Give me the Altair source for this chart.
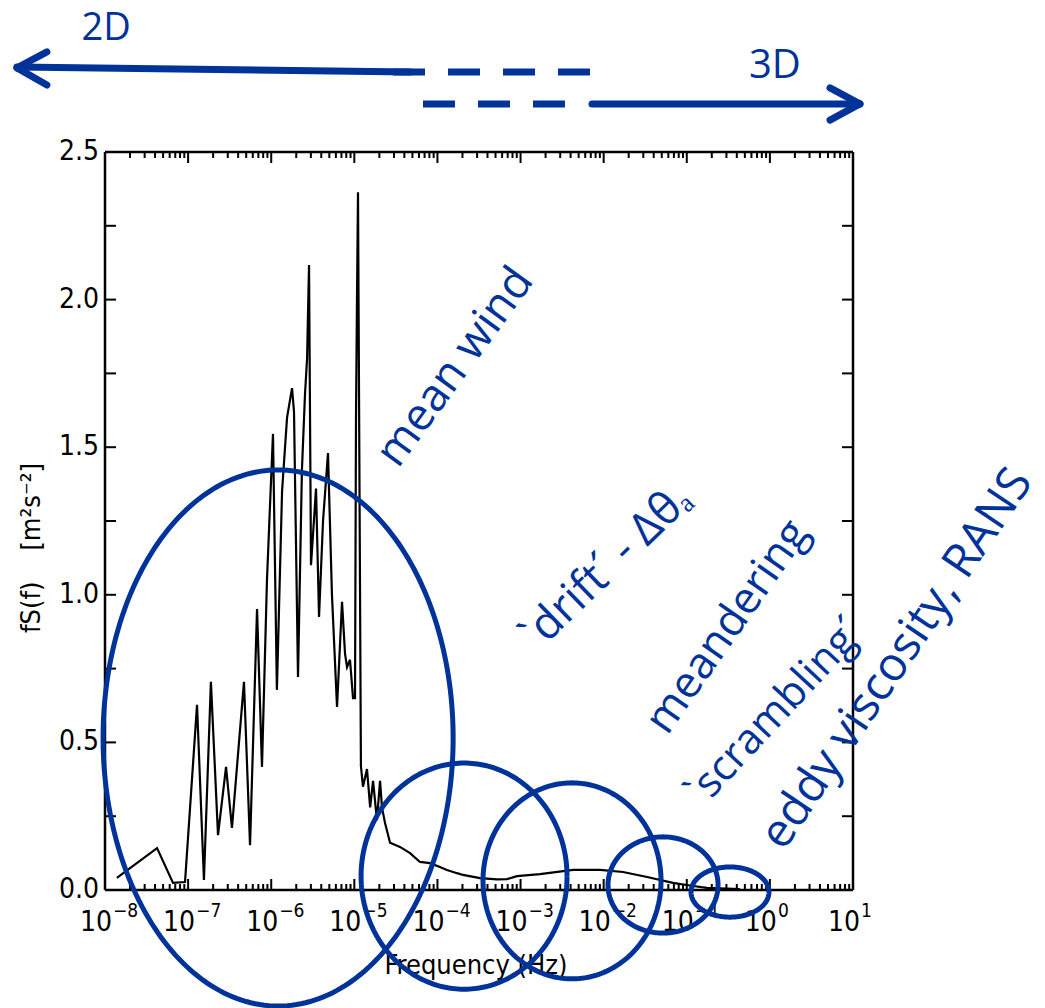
import altair as alt
import numpy as np
import pandas as pd

W, H = 748, 738
BLUE = "#003399"
SCAN_FONT = "Liberation Sans Narrow, DejaVu Sans Condensed, Liberation Sans, sans-serif"
NOTE_FONT = "Open Sans"

# Wind-speed spectrum fS(f) [m2 s-2] against frequency [Hz]
freq = [1.39e-8, 4.23e-8, 6.58e-8, 9.18e-8, 1.28e-7, 1.55e-7, 1.88e-7, 2.29e-7,
        2.86e-7, 3.37e-7, 4.70e-7, 5.56e-7, 6.75e-7, 7.74e-7, 8.89e-7, 9.66e-7,
        1.05e-6, 1.17e-6, 1.35e-6, 1.55e-6, 1.78e-6, 1.88e-6, 2.10e-6, 2.34e-6,
        2.55e-6, 2.70e-6, 2.85e-6, 3.01e-6, 3.46e-6, 3.76e-6, 4.20e-6, 4.82e-6,
        5.38e-6, 6.19e-6, 7.11e-6, 7.73e-6, 8.17e-6, 8.87e-6, 9.64e-6, 1.019e-5,
        1.047e-5, 1.076e-5, 1.107e-5, 1.20e-5, 1.27e-5, 1.42e-5, 1.55e-5, 1.68e-5,
        1.87e-5, 2.04e-5, 2.15e-5, 2.34e-5, 2.69e-5, 3.54e-5, 4.68e-5, 6.17e-5,
        8.15e-5, 1.07e-4, 1.30e-4, 1.72e-4, 2.03e-4, 3.25e-4, 5.21e-4, 6.87e-4,
        9.06e-4, 1.71e-3, 4.28e-3, 9.04e-3, 1.71e-2, 3.33e-2, 6.82e-2, 0.119,
        0.175, 0.437]
fs = [0.041, 0.142, 0.024, 0.027, 0.627, 0.034, 0.705, 0.186,
      0.417, 0.210, 0.705, 0.152, 0.952, 0.417, 1.05, 1.30,
      1.545, 0.678, 1.35, 1.60, 1.70, 1.62, 0.722, 1.42,
      1.68, 1.80, 2.117, 1.10, 1.36, 0.925, 1.25, 1.48,
      1.00, 0.62, 0.976, 0.80, 0.755, 0.78, 0.65, 0.65,
      1.60, 2.00, 2.364, 0.42, 0.35, 0.41, 0.28, 0.37,
      0.237, 0.37, 0.28, 0.227, 0.16, 0.146, 0.125, 0.095,
      0.091, 0.078, 0.068, 0.057, 0.051, 0.040, 0.036, 0.037,
      0.047, 0.054, 0.068, 0.068, 0.061, 0.044, 0.024, 0.0135,
      0.007, 0.003]
assert len(freq) == len(fs)

# Axis ticks and labels
decades = [1e-8, 1e-7, 1e-6, 1e-5, 1e-4, 1e-3, 1e-2, 1e-1, 1e0, 1e1]
decade_exp = ["\u22128", "\u22127", "\u22126", "\u22125", "\u22124", "\u22123",
              "\u22122", "\u22121", "0", "1"]
minor = [k * 10.0 ** e for e in range(-8, 1) for k in range(2, 10)]
y_label_values = [0.0, 0.5, 1.0, 1.5, 2.0, 2.5]
y_label_text = ["0.0", "0.5", "1.0", "1.5", "2.0", "2.5"]
y_ticks = [0.25, 0.5, 0.75, 1.0, 1.25, 1.5, 1.75, 2.0, 2.25]

# Regime ellipses: centre frequency, centre level, half-width (decades), half-height
ell_f = [1.21e-6, 2.09e-4, 4.16e-3, 5.18e-2, 0.331]
ell_v = [0.515, 0.047, 0.031, 0.017, -0.007]
ell_rx = [2.106, 1.239, 1.071, 0.662, 0.469]
ell_ry = [0.908, 0.383, 0.332, 0.163, 0.085]

# 2D / 3D arrows above the frame (solid strokes and dashed strokes)
arrow_f1 = [8.73e-10, 8.73e-10, 8.73e-10, 7.24e-3, 12.1, 12.1]
arrow_f2 = [4.68e-5, 2.00e-9, 2.00e-9, 12.1, 5.29, 5.29]
arrow_v1 = [2.788, 2.785, 2.785, 2.663, 2.663, 2.663]
arrow_v2 = [2.771, 2.839, 2.727, 2.663, 2.717, 2.608]
dash_f1 = [2.92e-5, 6.70e-5]
dash_f2 = [7.24e-3, 3.72e-3]
dash_v = [2.771, 2.663]

# Annotation texts
note_text = ["2D", "3D", "mean wind", "`drift\u00b4 - \u0394\u03b8\u2090", "meandering",
             "`scrambling\u00b4", "eddy viscosity, RANS"]
note_f = [1.03e-8, 1.15, 1.63e-4, 1.07e-2, 0.313, 1.153, 33.9]
note_v = [2.915, 2.791, 1.772, 1.094, 0.891, 0.603, 0.7825]
note_angle = [0, 0, 306, 316, 305, 313, 304]
note_size = [38, 40, 45, 45, 44, 42, 47]

y_title = "fS(f)\u00a0\u00a0\u00a0\u00a0[m\u00b2s\u207b\u00b2]"
x_title = "Frequency (Hz)"

xs = alt.Scale(type="log", domain=[1e-8, 10], nice=False)
ys = alt.Scale(domain=[0, 2.5], nice=False, zero=False)

spectrum = alt.Chart(pd.DataFrame({"f": freq, "s": fs})).mark_line(
    color="black", strokeWidth=2.2
).encode(
    x=alt.X("f:Q", scale=xs, axis=None),
    y=alt.Y("s:Q", scale=ys, axis=None),
)

one = pd.DataFrame({"k": [0]})

# Plot frame
frame = [
    alt.Chart(one).mark_rule(color="black", strokeWidth=2.5).encode(
        x=alt.value(0), x2=alt.value(W), y=alt.value(0), y2=alt.value(0)),
    alt.Chart(one).mark_rule(color="black", strokeWidth=2.5).encode(
        x=alt.value(0), x2=alt.value(W), y=alt.value(H), y2=alt.value(H)),
    alt.Chart(one).mark_rule(color="black", strokeWidth=2.5).encode(
        x=alt.value(0), x2=alt.value(0), y=alt.value(0), y2=alt.value(H)),
    alt.Chart(one).mark_rule(color="black", strokeWidth=2.5).encode(
        x=alt.value(W), x2=alt.value(W), y=alt.value(0), y2=alt.value(H)),
]

dec_df = pd.DataFrame({"f": decades, "base": ["10"] * len(decades), "e": decade_exp})
minor_df = pd.DataFrame({"f": minor})
yt_df = pd.DataFrame({"v": y_ticks})

def xtick(df, y0, y1):
    return alt.Chart(df).mark_rule(color="black", strokeWidth=2).encode(
        x=alt.X("f:Q", scale=xs, axis=None), y=alt.value(y0), y2=alt.value(y1))

def ytick(x0, x1):
    return alt.Chart(yt_df).mark_rule(color="black", strokeWidth=2).encode(
        y=alt.Y("v:Q", scale=ys, axis=None), x=alt.value(x0), x2=alt.value(x1))

ticks = [
    xtick(dec_df, H, H - 11), xtick(dec_df, 0, 11),
    xtick(minor_df, H, H - 6), xtick(minor_df, 0, 6),
    ytick(0, 11), ytick(W, W - 11),
]

x_base = alt.Chart(dec_df).mark_text(
    font=SCAN_FONT, fontSize=28, color="black", align="right",
    baseline="alphabetic", dx=7
).encode(x=alt.X("f:Q", scale=xs, axis=None), y=alt.value(H + 41), text="base:N")

x_exp = alt.Chart(dec_df).mark_text(
    font=SCAN_FONT, fontSize=19, color="black", align="left",
    baseline="alphabetic", dx=8
).encode(x=alt.X("f:Q", scale=xs, axis=None), y=alt.value(H + 27), text="e:N")

y_lab = alt.Chart(pd.DataFrame({"v": y_label_values, "t": y_label_text})).mark_text(
    font=SCAN_FONT, fontSize=28, color="black", align="right", baseline="middle", dx=-6
).encode(y=alt.Y("v:Q", scale=ys, axis=None), x=alt.value(0), text="t:N")

xtitle = alt.Chart(pd.DataFrame({"t": [x_title]})).mark_text(
    font=SCAN_FONT, fontSize=27, color="black", align="center", baseline="alphabetic"
).encode(x=alt.value(371), y=alt.value(H + 84), text="t:N")

ytitle = alt.Chart(pd.DataFrame({"t": [y_title]})).mark_text(
    font=SCAN_FONT, fontSize=27, color="black", angle=270,
    align="center", baseline="middle"
).encode(x=alt.value(-73), y=alt.value(396), text="t:N")

# Ellipse outlines traced in log-frequency space
rows = []
t = np.linspace(0, 2 * np.pi, 241)
for k in range(len(ell_f)):
    for i, a in enumerate(t):
        rows.append({"e": k, "i": i,
                     "f": ell_f[k] * 10 ** (ell_rx[k] * np.cos(a)),
                     "v": ell_v[k] + ell_ry[k] * np.sin(a)})
ellipses = alt.Chart(pd.DataFrame(rows)).mark_line(
    color=BLUE, strokeWidth=5
).encode(
    x=alt.X("f:Q", scale=xs, axis=None), y=alt.Y("v:Q", scale=ys, axis=None),
    detail="e:N", order="i:Q")

arrows = alt.Chart(pd.DataFrame({"f1": arrow_f1, "f2": arrow_f2,
                                 "v1": arrow_v1, "v2": arrow_v2})).mark_rule(
    color=BLUE, strokeWidth=7, strokeCap="round"
).encode(x=alt.X("f1:Q", scale=xs, axis=None), x2="f2:Q",
         y=alt.Y("v1:Q", scale=ys, axis=None), y2="v2:Q")

dashes = alt.Chart(pd.DataFrame({"f1": dash_f1, "f2": dash_f2, "v": dash_v})).mark_rule(
    color=BLUE, strokeWidth=7, strokeCap="butt", strokeDash=[32, 23]
).encode(x=alt.X("f1:Q", scale=xs, axis=None), x2="f2:Q",
         y=alt.Y("v:Q", scale=ys, axis=None))

notes = alt.Chart(pd.DataFrame({"t": note_text, "f": note_f, "v": note_v,
                                "ang": note_angle, "sz": note_size})).mark_text(
    font=NOTE_FONT, color=BLUE, align="center", baseline="middle"
).encode(x=alt.X("f:Q", scale=xs, axis=None), y=alt.Y("v:Q", scale=ys, axis=None),
         text="t:N", angle=alt.Angle("ang:Q", scale=None),
         size=alt.Size("sz:Q", scale=None))

chart = alt.layer(
    spectrum, *frame, *ticks, x_base, x_exp, y_lab, xtitle, ytitle,
    ellipses, arrows, dashes, notes
).properties(
    width=W, height=H, background="white",
    padding={"left": 105, "top": 152, "right": 192, "bottom": 118},
    autosize=alt.AutoSizeParams(type="none"),
).configure_view(stroke=None)

chart.save("out.html", embed_options={"renderer": "svg", "actions": False})
